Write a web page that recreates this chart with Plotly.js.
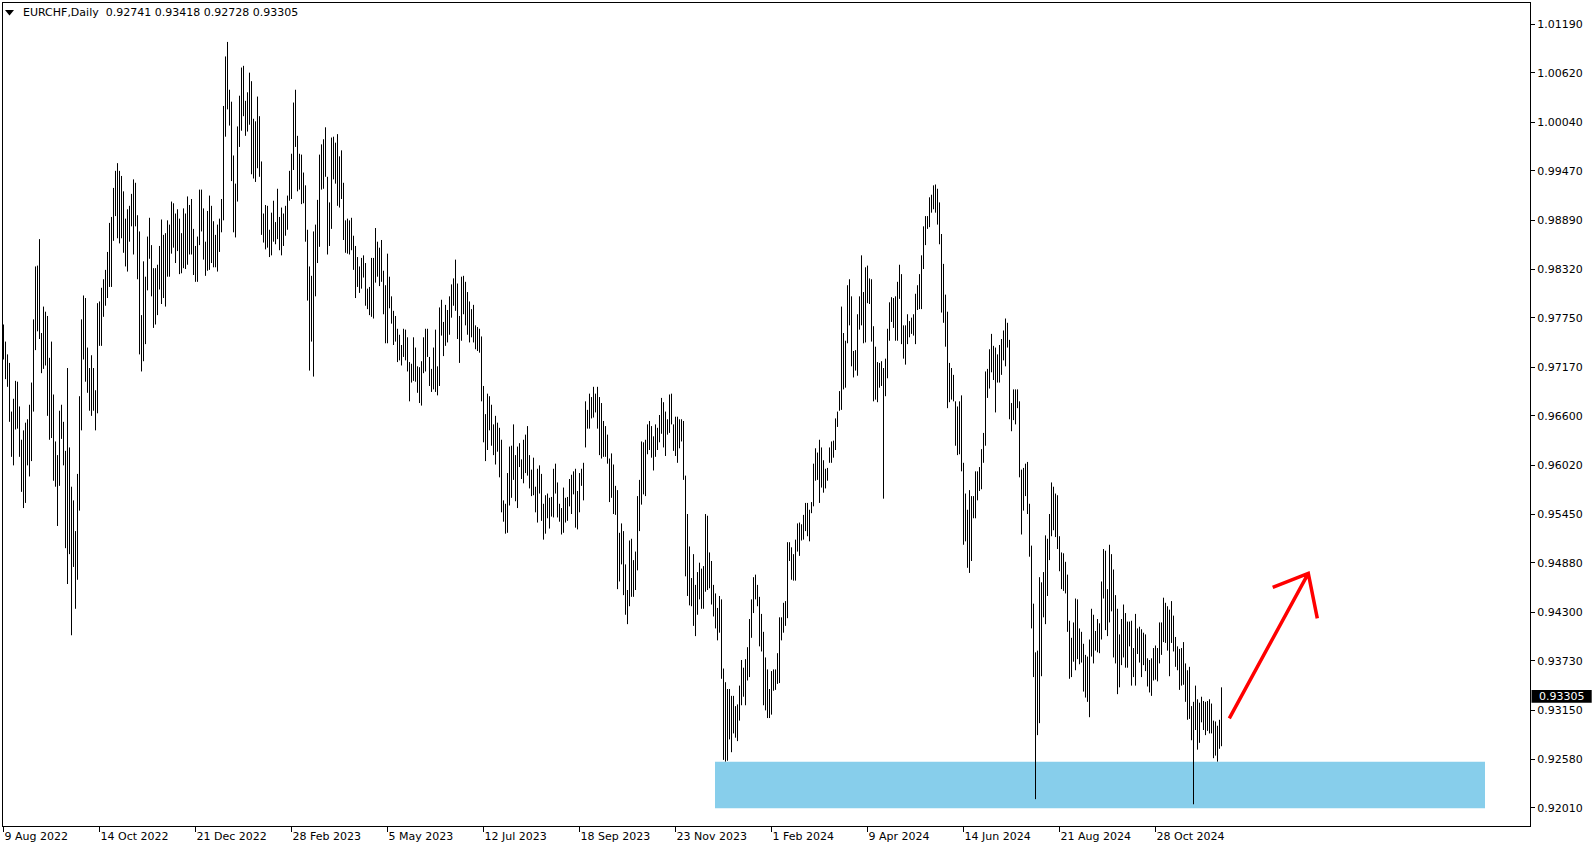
<!DOCTYPE html>
<html><head><meta charset="utf-8">
<script src="https://cdn.plot.ly/plotly-3.0.1.min.js"></script>
<style>html,body{margin:0;padding:0;background:#fff;overflow:hidden}#chart{width:1594px;height:850px}</style>
</head><body><div id="chart"></div>
<script>
// ---- data (prices x 10000), one value per daily bar, 9 Aug 2022 .. 12 Dec 2024 ----
const symbolName = "EURCHF,Daily";
const lastOpen = 0.92741, lastHigh = 0.93418, lastLow = 0.92728, lastClose = 0.93305;

const highPips = [
9767,9747,9732,9722,9665,9680,9701,9700,9671,9632,
9643,9652,9656,9673,9699,9773,9835,9836,9867,9757,
9788,9782,9777,9728,9747,9685,9630,9614,9666,9673,
9653,9619,9716,9623,9577,9561,9525,9592,9683,9773,
9801,9798,9740,9716,9731,9716,9690,9792,9794,9810,
9820,9831,9852,9886,9893,9927,9947,9956,9947,9941,
9923,9891,9902,9906,9920,9937,9933,9895,9876,9778,
9841,9823,9870,9892,9860,9833,9833,9837,9859,9890,
9872,9874,9889,9884,9911,9909,9897,9902,9891,9874,
9903,9897,9917,9907,9914,9879,9859,9870,9925,9925,
9903,9864,9900,9918,9906,9888,9872,9884,9891,9914,
10023,10081,10098,10042,10028,9965,9932,9999,10035,10068,
10070,10029,10039,10062,10052,10008,10005,10034,10011,9958,
9897,9907,9906,9878,9898,9912,9887,9926,9893,9904,
9897,9906,9918,9947,9967,10027,10042,9988,9967,9966,
9945,9930,9878,9835,9824,9876,9884,9913,9966,9978,
9984,9998,9940,9910,9986,9987,9980,9990,9964,9971,
9933,9889,9891,9889,9892,9871,9859,9846,9835,9845,
9848,9839,9809,9811,9845,9845,9880,9864,9857,9866,
9830,9813,9850,9823,9800,9783,9777,9762,9755,9743,
9762,9761,9752,9723,9721,9752,9740,9718,9717,9724,
9752,9762,9762,9729,9715,9740,9761,9718,9787,9796,
9770,9790,9784,9800,9814,9821,9843,9815,9777,9823,
9824,9817,9805,9794,9785,9790,9766,9764,9762,9753,
9695,9662,9686,9683,9673,9650,9660,9652,9646,9632,
9561,9557,9593,9624,9625,9650,9614,9624,9628,9609,
9632,9638,9648,9614,9597,9611,9577,9598,9602,9592,
9557,9567,9569,9564,9565,9598,9604,9582,9557,9552,
9576,9564,9565,9586,9591,9595,9598,9572,9593,9598,
9605,9677,9667,9686,9682,9694,9686,9694,9682,9675,
9654,9648,9638,9610,9616,9603,9578,9573,9523,9534,
9525,9486,9456,9514,9516,9491,9501,9566,9585,9630,
9629,9632,9650,9654,9648,9636,9650,9646,9661,9681,
9676,9665,9656,9685,9686,9650,9659,9659,9656,9656,
9654,9590,9545,9507,9470,9498,9462,9477,9488,9481,
9484,9545,9543,9500,9490,9462,9452,9435,9449,9445,
9364,9348,9340,9340,9332,9332,9320,9322,9344,9374,
9365,9375,9389,9422,9445,9471,9474,9462,9448,9428,
9407,9377,9363,9340,9361,9363,9363,9382,9424,9424,
9441,9443,9512,9512,9506,9498,9515,9534,9535,9533,
9544,9558,9558,9550,9559,9604,9622,9617,9632,9623,
9608,9598,9599,9623,9630,9631,9657,9665,9689,9788,
9757,9748,9813,9820,9800,9736,9737,9779,9800,9848,
9805,9834,9836,9821,9820,9765,9741,9723,9722,9724,
9716,9727,9762,9793,9799,9798,9800,9817,9837,9826,
9766,9766,9779,9771,9775,9779,9803,9813,9826,9848,
9882,9894,9894,9916,9919,9930,9931,9926,9910,9873,
9838,9802,9782,9722,9716,9708,9677,9671,9677,9684,
9605,9569,9550,9573,9566,9566,9595,9595,9600,9621,
9640,9712,9715,9738,9756,9742,9740,9732,9743,9750,
9760,9774,9769,9749,9675,9691,9691,9691,9677,9597,
9599,9604,9606,9557,9508,9440,9383,9385,9471,9465,
9477,9520,9516,9545,9582,9577,9569,9567,9519,9500,
9499,9489,9474,9420,9400,9418,9446,9445,9411,9407,
9393,9380,9378,9398,9434,9427,9408,9422,9417,9466,
9504,9502,9457,9509,9498,9480,9450,9434,9404,9422,
9439,9429,9419,9419,9420,9388,9428,9411,9413,9410,
9406,9404,9376,9374,9376,9388,9391,9388,9418,9418,
9447,9441,9437,9433,9443,9426,9401,9390,9387,9388,
9395,9370,9362,9366,9320,9325,9344,9328,9324,9331,
9326,9325,9326,9328,9323,9303,9302,9297,9304,9342
];

const lowPips = [
9726,9703,9694,9653,9612,9602,9644,9645,9612,9571,
9552,9558,9602,9589,9607,9665,9737,9759,9750,9710,
9715,9719,9660,9632,9634,9584,9577,9531,9578,9633,
9602,9505,9463,9498,9403,9483,9434,9468,9549,9643,
9726,9700,9687,9666,9660,9666,9643,9663,9742,9742,
9776,9789,9798,9811,9811,9865,9894,9868,9862,9868,
9851,9835,9829,9864,9882,9849,9882,9820,9732,9712,
9724,9744,9807,9844,9800,9763,9767,9778,9808,9791,
9798,9788,9823,9823,9850,9857,9839,9853,9826,9827,
9833,9832,9837,9849,9849,9825,9817,9817,9860,9876,
9843,9824,9830,9831,9839,9834,9834,9829,9852,9875,
9889,9987,10019,10000,9935,9875,9869,9911,9975,9994,
10011,9988,9993,10001,9943,9938,9934,9950,9940,9872,
9863,9855,9857,9846,9848,9864,9861,9867,9854,9848,
9859,9871,9878,9912,9914,9948,9975,9923,9925,9908,
9909,9864,9795,9713,9747,9706,9800,9839,9858,9925,
9926,9940,9849,9859,9879,9937,9932,9906,9904,9914,
9866,9851,9850,9849,9854,9831,9798,9811,9804,9809,
9822,9789,9785,9778,9776,9774,9816,9823,9812,9817,
9779,9745,9745,9786,9768,9743,9747,9723,9725,9719,
9729,9725,9712,9677,9699,9701,9700,9687,9675,9672,
9710,9712,9729,9695,9688,9691,9688,9684,9695,9754,
9730,9742,9746,9755,9775,9789,9783,9750,9722,9748,
9779,9766,9755,9746,9752,9746,9738,9736,9734,9677,
9629,9607,9620,9643,9625,9614,9603,9618,9588,9547,
9536,9522,9523,9555,9564,9585,9560,9552,9600,9586,
9581,9593,9590,9575,9566,9567,9547,9535,9569,9537,
9515,9522,9540,9528,9542,9541,9569,9541,9536,9521,
9523,9535,9537,9554,9545,9568,9529,9527,9547,9578,
9561,9623,9645,9645,9657,9658,9664,9645,9614,9610,
9612,9612,9604,9559,9564,9545,9544,9457,9466,9486,
9450,9427,9416,9437,9448,9448,9456,9479,9525,9556,
9568,9566,9615,9620,9611,9596,9612,9620,9629,9639,
9623,9613,9638,9640,9650,9619,9613,9605,9622,9630,
9585,9472,9449,9438,9437,9414,9402,9427,9445,9434,
9434,9454,9456,9458,9439,9425,9411,9397,9406,9352,
9257,9255,9256,9281,9266,9288,9283,9279,9303,9321,
9331,9321,9350,9354,9400,9429,9445,9437,9390,9384,
9321,9315,9306,9306,9310,9338,9339,9346,9347,9397,
9406,9414,9423,9490,9468,9467,9467,9501,9496,9514,
9515,9525,9519,9513,9546,9554,9584,9585,9558,9576,
9570,9575,9584,9605,9605,9611,9620,9647,9666,9667,
9691,9693,9745,9766,9718,9705,9713,9707,9761,9766,
9745,9746,9792,9791,9747,9677,9679,9676,9693,9695,
9563,9683,9704,9748,9770,9763,9748,9748,9797,9744,
9727,9720,9744,9752,9756,9754,9744,9784,9785,9785,
9832,9860,9879,9881,9898,9902,9898,9884,9861,9781,
9769,9741,9669,9676,9679,9677,9625,9614,9615,9595,
9509,9513,9482,9476,9490,9540,9540,9561,9572,9574,
9605,9625,9681,9692,9711,9702,9664,9699,9699,9708,
9725,9718,9740,9656,9642,9655,9650,9669,9588,9521,
9549,9566,9545,9495,9411,9354,9211,9286,9300,9355,
9424,9416,9449,9491,9519,9526,9518,9504,9478,9457,
9455,9452,9407,9352,9354,9372,9362,9375,9369,9371,
9337,9330,9325,9307,9378,9370,9385,9383,9382,9398,
9446,9409,9402,9418,9431,9377,9370,9334,9342,9368,
9377,9365,9365,9390,9344,9354,9344,9381,9371,9354,
9368,9361,9343,9336,9332,9350,9351,9349,9370,9380,
9395,9394,9385,9355,9394,9384,9366,9362,9339,9344,
9345,9325,9304,9305,9280,9205,9292,9269,9277,9301,
9292,9286,9291,9288,9288,9259,9262,9255,9270,9273
];

const dateTickBars = [0,48,96,144,192,240,288,336,384,432,480,528,576];
const dateTickLabels = ["9 Aug 2022","14 Oct 2022","21 Dec 2022","28 Feb 2023","5 May 2023","12 Jul 2023",
  "18 Sep 2023","23 Nov 2023","1 Feb 2024","9 Apr 2024","14 Jun 2024","21 Aug 2024","28 Oct 2024"];
const priceTicks = [1.0119,1.0062,1.0004,0.9947,0.9889,0.9832,0.9775,0.9717,0.9660,0.9602,
  0.9545,0.9488,0.9430,0.9373,0.9315,0.9258,0.9201];
// support zone and drawn arrow (price levels / bar positions)
const zoneTop = 0.92549, zoneBottom = 0.92003, zoneStartBar = 355.75, zoneEndBar = 740.75;
const arrowStart = [612.9, 0.930572], arrowTip = [652.4, 0.947557];
const arrowWingA = [634.6, 0.945916], arrowWingB = [656.9, 0.942285];

// ---- build bars: one vertical high-low line per bar ----
const bx = [], by = [];
for (let i = 0; i < highPips.length; i++) {
  bx.push(i, i, null);
  by.push(lowPips[i] / 10000, highPips[i] / 10000, null);
}

const W = 1594, H = 850, L = 3, R = 64, T = 3, B = 24;
const pw = W - L - R, ph = H - T - B;
const PX = x => (x - L) / pw;
const PY = y => (H - B - y) / ph;
const FONT = "DejaVu Sans, Verdana, sans-serif";

const trace = {
  type: "scatter", mode: "lines", x: bx, y: by,
  line: {color: "#000000", width: 1}, hoverinfo: "skip", showlegend: false, connectgaps: false
};

const layout = {
  width: W, height: H,
  margin: {l: L, r: R, t: T, b: B, pad: 0},
  paper_bgcolor: "#ffffff", plot_bgcolor: "#ffffff",
  showlegend: false, hovermode: false,
  font: {family: FONT, size: 11, color: "#000000"},
  xaxis: {
    range: [-0.25, -0.25 + pw / 2], showgrid: false, zeroline: false,
    showline: true, linecolor: "#000000", linewidth: 1, mirror: true,
    ticks: "outside", ticklen: 5, tickcolor: "#000000", tickwidth: 1,
    tickmode: "array", tickvals: dateTickBars, ticktext: dateTickLabels,
    ticklabelposition: "outside right",
    tickfont: {family: FONT, size: 11, color: "#000000"}, automargin: false, fixedrange: true
  },
  yaxis: {
    side: "right", range: [0.917956, 1.014360], showgrid: false, zeroline: false,
    showline: true, linecolor: "#000000", linewidth: 1, mirror: true,
    ticks: "outside", ticklen: 4, tickcolor: "#000000", tickwidth: 1,
    tickmode: "array", tickvals: priceTicks, ticktext: priceTicks.map(v => v.toFixed(5)),
    tickfont: {family: FONT, size: 11, color: "#000000"}, automargin: false, fixedrange: true
  },
  shapes: [
    {type: "rect", xref: "x", yref: "y", x0: zoneStartBar, x1: zoneEndBar, y0: zoneBottom, y1: zoneTop,
     fillcolor: "#87CEEB", line: {width: 0}, layer: "below"},
    {type: "path", xref: "x", yref: "y",
     path: `M${arrowStart[0]},${arrowStart[1]} L${arrowTip[0]},${arrowTip[1]} M${arrowWingA[0]},${arrowWingA[1]} L${arrowTip[0]},${arrowTip[1]} L${arrowWingB[0]},${arrowWingB[1]}`,
     line: {color: "#FF0000", width: 3.5}, layer: "above"},
    {type: "rect", xref: "paper", yref: "paper", x0: PX(1531.5), x1: PX(1591.7), y0: PY(702.7), y1: PY(690),
     fillcolor: "#000000", line: {width: 0}},
    {type: "path", xref: "paper", yref: "paper",
     path: `M${PX(5)},${PY(10)} L${PX(14)},${PY(10)} L${PX(9.5)},${PY(15.5)} Z`,
     fillcolor: "#000000", line: {width: 0}}
  ],
  annotations: [
    {xref: "paper", yref: "paper", x: PX(21), y: PY(12.7), xanchor: "left", yanchor: "middle",
     showarrow: false, font: {family: FONT, size: 11, color: "#000000"},
     text: symbolName + "\u00a0\u00a0" + [lastOpen, lastHigh, lastLow, lastClose].map(v => v.toFixed(5)).join(" ")},
    {xref: "paper", yref: "paper", x: PX(1537), y: PY(696.4), xanchor: "left", yanchor: "middle",
     showarrow: false, font: {family: FONT, size: 11, color: "#ffffff"}, text: lastClose.toFixed(5)}
  ]
};

Plotly.newPlot("chart", [trace], layout, {staticPlot: true, displayModeBar: false});
</script>
</body></html>
